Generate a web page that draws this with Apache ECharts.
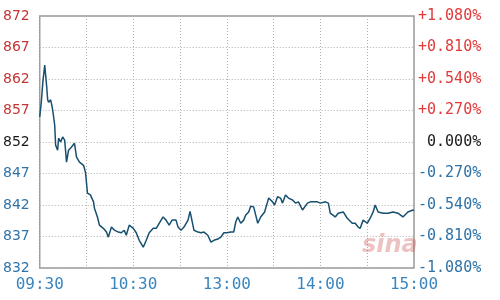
<!DOCTYPE html>
<html><head><meta charset="utf-8">
<script src="https://cdn.jsdelivr.net/npm/echarts@6/dist/echarts.min.js"></script>
<style>html,body{margin:0;padding:0;background:#fff}#c{width:500px;height:300px}</style>
</head><body><div id="c"></div>
<script>
// minutes since 09:30 on the trading clock (lunch break removed)
var minutes = [0,1,2,3.2,3.8,4.5,5.1,5.7,7,7.7,8.3,9.6,10.2,11.5,12.1,13.4,14.7,16,17.2,18.5,20.4,22.3,23.6,25.5,28.1,29.4,30.6,32.5,34.5,35.1,37,38.3,40.8,42.8,44,46,47.9,50.4,52.3,54.2,55.5,57.4,60,61.9,63.8,66.4,68.3,70.2,72.8,74.7,76.6,79.1,81,83,84.9,87.4,88.7,90.6,92.5,95.1,96.4,97.6,98.9,101.5,103.4,105.3,107.8,109.8,111.7,114.2,116.1,118.1,120,122.5,124.4,125.7,127,128.9,130.8,132.1,134,135.3,137.2,138.5,139.8,141.7,142.9,144.2,146.1,146.8,149.3,150.6,152.5,154.4,155.7,157.6,159.5,162.1,164,165.9,168.5,169.1,171.7,173.6,175.5,178,180,183.2,185.1,186.3,189.5,191.4,194.6,197.2,200.4,202.3,204.2,205.5,207.4,210,211.9,213.8,215.1,217,220.2,223.4,226.5,229.7,232.9,236.1,239.3,240];
var prices = [856.0,858.3,861.5,864.2,862.6,860.7,858.7,858.3,858.7,857.9,857.1,854.7,851.5,850.7,852.6,852.0,852.8,852.3,848.8,850.7,851.2,851.8,849.6,848.8,848.3,847.1,843.9,843.6,842.5,841.5,840.1,838.8,838.3,837.7,836.9,838.5,838.0,837.7,837.6,838.0,837.2,838.8,838.3,837.6,836.4,835.3,836.4,837.6,838.3,838.3,839.1,840.1,839.6,838.8,839.6,839.6,838.5,838.0,838.5,839.6,841.0,840.7,838.0,837.7,837.6,837.7,837.2,836.1,836.4,836.6,836.9,837.6,837.6,837.7,837.7,839.3,840.1,839.1,839.6,840.4,840.9,841.8,841.7,840.4,839.1,840.1,839.9,840.9,842.5,843.1,842.5,842.0,843.3,843.1,842.3,843.6,843.1,842.8,842.3,842.5,841.2,840.9,842.3,842.5,842.5,842.5,842.3,842.5,842.3,840.7,840.1,840.7,840.9,839.9,839.1,839.1,838.5,838.3,839.6,839.1,839.9,840.9,842.0,840.9,840.7,840.7,840.9,840.7,840.1,840.9,841.2,841.1];
var timeTickMinutes = [0,60,120,180,240];
var timeTickLabels = ['09:30','10:30','13:00','14:00','15:00'];
var priceTicks = [832,837,842,847,852,857,862,867,872];
var pctLabels = ['-1.080%','-0.810%','-0.540%','-0.270%',' 0.000%','+0.270%','+0.540%','+0.810%','+1.080%'];
var basePrice = 852;

var RED = '#c43636', BLUE = '#2f73a8', BLACK = '#1a1a1a';
function colorFor(v){ v = +v; return v > basePrice ? RED : (v < basePrice ? BLUE : BLACK); }

var data = minutes.map(function(m,i){ return [m, prices[i]]; });
var chart = echarts.init(document.getElementById('c'), null, {renderer:'canvas'});
chart.setOption({
  animation:false,
  backgroundColor:'#fff',
  grid:{left:38,right:86,top:16,bottom:32,show:true,borderColor:'#999',borderWidth:1.5,backgroundColor:'transparent'},
  xAxis:{type:'value',min:0,max:240,interval:30,
    axisLine:{show:false},axisTick:{show:false},
    splitLine:{show:true,lineStyle:{color:'#b0b0b0',type:[1,2],width:1}},
    axisLabel:{margin:9,fontFamily:'DejaVu Sans Mono',fontSize:16,color:'#3a86c0',
      formatter:function(v){ var i=timeTickMinutes.indexOf(v); return i>=0?timeTickLabels[i]:''; }}
  },
  yAxis:[{type:'value',min:832,max:872,interval:5,position:'left',
    axisLine:{show:false},axisTick:{show:false},
    splitLine:{show:true,lineStyle:{color:'#b0b0b0',type:[1,2],width:1}},
    axisLabel:{margin:10,fontFamily:'DejaVu Sans',fontSize:14,color:function(v){return colorFor(v);},
      formatter:function(v){ return String(v); }}
  },{type:'value',min:832,max:872,interval:5,position:'right',
    axisLine:{show:false},axisTick:{show:false},splitLine:{show:false},
    axisLabel:{margin:4,align:'left',fontFamily:'DejaVu Sans Mono',fontSize:15,
      color:function(v){ return colorFor(v)===RED?'#e03a3a':colorFor(v); },
      formatter:function(v){ var i=priceTicks.indexOf(v); return i>=0?pctLabels[i]:''; }}
  }],
  series:[{type:'line',data:data,showSymbol:false,symbol:'none',
    lineStyle:{color:'#17506f',width:1.5},z:3}],
  graphic:[{type:'text',left:362,top:234,z:1,silent:true,
    style:{text:'sina',fill:'rgba(200,80,80,0.35)',font:'italic bold 24px "DejaVu Sans"'}}]
});
</script></body></html>
